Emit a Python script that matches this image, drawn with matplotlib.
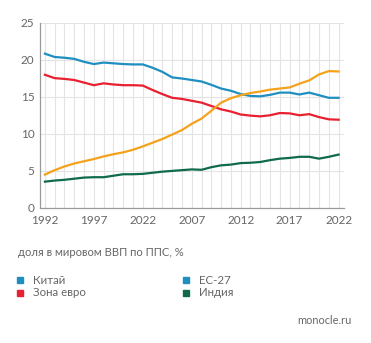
import matplotlib
matplotlib.use("Agg")
import matplotlib.pyplot as plt
from matplotlib.patches import Rectangle

plt.rcParams['font.family'] = ['Lato', 'DejaVu Sans']

years = list(range(1992, 2023))
eu27 = [20.8, 20.35, 20.25, 20.1, 19.7, 19.4, 19.6, 19.5, 19.4, 19.35, 19.35, 18.9, 18.35, 17.6,
        17.45, 17.25, 17.05, 16.6, 16.1, 15.8, 15.35, 15.1, 15.05, 15.25, 15.55, 15.55, 15.3,
        15.55, 15.2, 14.85, 14.85]
euro = [17.95, 17.5, 17.4, 17.25, 16.9, 16.55, 16.8, 16.65, 16.55, 16.55, 16.5, 15.9, 15.35, 14.85,
        14.7, 14.45, 14.2, 13.75, 13.3, 13.0, 12.6, 12.45, 12.35, 12.5, 12.8, 12.75, 12.5, 12.65,
        12.25, 11.95, 11.9]
china = [4.5, 5.1, 5.6, 6.0, 6.3, 6.6, 6.95, 7.25, 7.5, 7.85, 8.3, 8.8, 9.3, 9.9, 10.5, 11.35,
         12.05, 13.1, 14.2, 14.8, 15.2, 15.5, 15.7, 15.95, 16.1, 16.25, 16.75, 17.2, 18.0, 18.45, 18.4]
india = [3.55, 3.7, 3.8, 3.95, 4.1, 4.15, 4.15, 4.35, 4.55, 4.55, 4.6, 4.75, 4.9, 5.0, 5.1, 5.2,
         5.15, 5.5, 5.75, 5.85, 6.05, 6.1, 6.2, 6.45, 6.65, 6.75, 6.9, 6.9, 6.65, 6.9, 7.2]

xtick_pos = [1992, 1997, 2002, 2007, 2012, 2017, 2022]
xtick_labels = ["1992", "1997", "2022", "2007", "2012", "2017", "2022"]
yticks = [0, 5, 10, 15, 20, 25]

caption = "доля в мировом ВВП по ППС, %"
legend_items = [("Китай", "#1e8fc0"), ("Зона евро", "#e8202f"),
                ("ЕС-27", "#1e8fc0"), ("Индия", "#0f6b4b")]
source = "monocle.ru"

C_BLUE = "#1e8fc0"
C_RED = "#e8202f"
C_ORANGE = "#f4a21c"
C_GREEN = "#0f6b4b"
TXT = "#666666"

W, H = 371, 343
fig = plt.figure(figsize=(W / 100, H / 100), dpi=100)
ax = fig.add_axes([40 / W, 1 - 208 / H, (344 - 40) / W, (208 - 22.5) / H])

ax.set_xlim(1991.5, 2022.55)
ax.set_ylim(0, 25)

for y in years:
    ax.axvline(y, color="#e3e3e3", lw=0.8, zorder=0)
for y in yticks:
    ax.axhline(y, color="#e3e3e3", lw=0.8, zorder=0)

lw = 1.6
ax.plot(years, eu27, color=C_BLUE, lw=lw, zorder=3)
ax.plot(years, euro, color=C_RED, lw=lw, zorder=3)
ax.plot(years, china, color=C_ORANGE, lw=lw, zorder=4)
ax.plot(years, india, color=C_GREEN, lw=lw, zorder=3)

for s in ["top", "right"]:
    ax.spines[s].set_visible(False)
ax.spines["left"].set_color("#999999")
ax.spines["bottom"].set_color("#999999")
ax.spines["left"].set_linewidth(0.9)
ax.spines["bottom"].set_linewidth(0.9)

ax.set_xticks(xtick_pos)
ax.set_xticklabels(xtick_labels)
ax.set_yticks(yticks)
ax.tick_params(axis="both", length=0, labelsize=8.5, colors=TXT, pad=4)
ax.tick_params(axis="x", pad=5)

fig.text(18 / W, 1 - 252 / H, caption, fontsize=8.1, color=TXT, va="center", ha="left")

pos = [(20, 280), (20, 293), (186, 280), (186, 293)]
for (label, col), (px, py) in zip(legend_items, pos):
    fig.patches.append(Rectangle(((px - 3) / W, 1 - (py + 3) / H), 6 / W, 6 / H,
                                 transform=fig.transFigure, color=col, figure=fig))
    fig.text((px + 13) / W, 1 - py / H, label, fontsize=8.3, color=TXT, va="center", ha="left")

fig.text(352 / W, 1 - 320 / H, source, fontsize=7.9, color=TXT, va="center", ha="right")

fig.savefig("out.png", dpi=100)
